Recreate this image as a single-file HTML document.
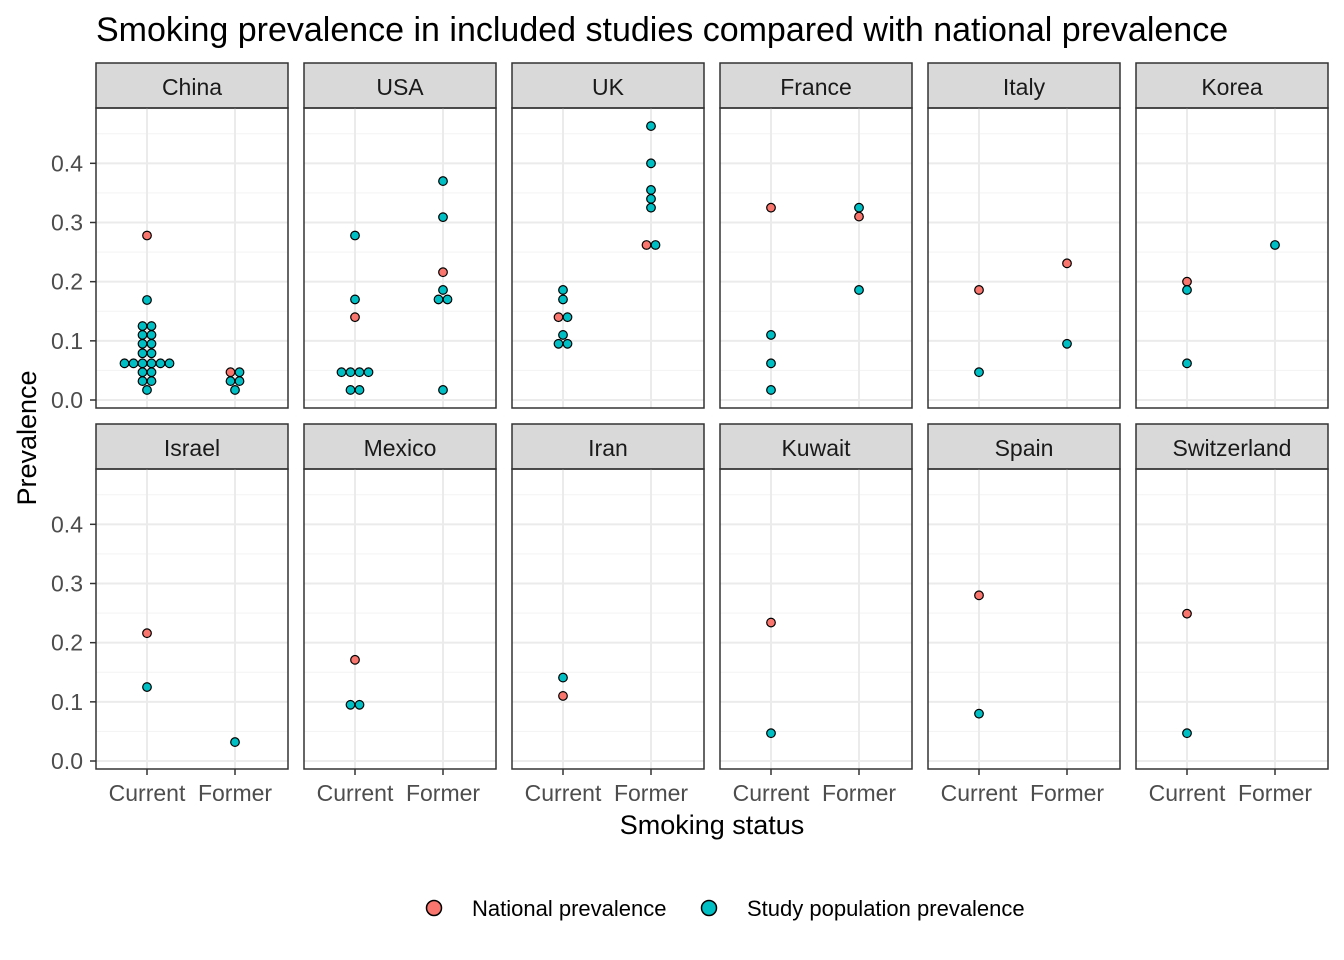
<!DOCTYPE html>
<html><head><meta charset="utf-8"><style>
body{margin:0;background:#fff;}
svg{display:block;font-family:"Liberation Sans",Arial,sans-serif;}
</style></head><body>
<svg id="chart" width="1344" height="960" xmlns="http://www.w3.org/2000/svg">
<text x="96" y="41" font-size="34" fill="#000">Smoking prevalence in included studies compared with national prevalence</text>
<text x="712" y="834" font-size="27" text-anchor="middle" fill="#000">Smoking status</text>
<text transform="translate(36,438) rotate(-90)" font-size="27" text-anchor="middle" fill="#000">Prevalence</text>
<g>
<circle cx="434" cy="908" r="7.5" fill="#F8766D" stroke="#000" stroke-width="1.5"/>
<text x="472" y="916" font-size="22">National prevalence</text>
<circle cx="709" cy="908" r="7.5" fill="#00BFC4" stroke="#000" stroke-width="1.5"/>
<text x="747" y="916" font-size="22">Study population prevalence</text>
</g>
<g id="panels"></g>
</svg>
<script>
const countries=["China","USA","UK","France","Italy","Korea","Israel","Mexico","Iran","Kuwait","Spain","Switzerland"];
const statuses=["Current","Former"];
const yTicks=[0,0.1,0.2,0.3,0.4];
const yTickLabels=["0.0","0.1","0.2","0.3","0.4"];
const nationalCurrent=[0.278,0.140,0.140,0.325,0.186,0.200,0.216,0.171,0.110,0.234,0.280,0.249];
const nationalFormer=[0.047,0.216,0.262,0.310,0.231,null,null,null,null,null,null,null];
const studyCurrent=[
 [0.169,0.125,0.125,0.110,0.110,0.095,0.095,0.079,0.079,0.062,0.062,0.062,0.062,0.062,0.062,0.047,0.047,0.032,0.032,0.017],
 [0.278,0.170,0.047,0.047,0.047,0.047,0.017,0.017],
 [0.186,0.170,0.140,0.110,0.095,0.095],
 [0.110,0.062,0.017],
 [0.047],
 [0.186,0.062],
 [0.125],[0.095,0.095],[0.141],[0.047],[0.080],[0.047]];
const studyFormer=[
 [0.047,0.032,0.032,0.017],
 [0.370,0.309,0.186,0.170,0.170,0.017],
 [0.463,0.400,0.355,0.340,0.325,0.262],
 [0.325,0.186],
 [0.095],
 [0.262],
 [0.032],[],[],[],[],[]];

const NS="http://www.w3.org/2000/svg";
const root=document.getElementById('panels');
function mk(tag,attrs,parent){const e=document.createElementNS(NS,tag);for(const k in attrs)e.setAttribute(k,attrs[k]);(parent||root).appendChild(e);return e;}
const PW=192, PH=300, px0=[96,304,512,720,928,1136];
const rowTop=[108,469];
const vmin=-0.0135, vmax=0.4935;
function yScale(v,row){return rowTop[row]+PH-(v-vmin)/(vmax-vmin)*PH;}
function xScale(s,col){return px0[col]+51+s*88;}

countries.forEach((c,i)=>{
  const row=Math.floor(i/6), col=i%6, x0=px0[col], top=rowTop[row];
  const g=mk('g',{});
  
  
  const st=mk('rect',{x:x0,y:top-45,width:PW,height:45,fill:'#D9D9D9',stroke:'#333','stroke-width':1.5},g);
  
  
  const stt=mk('text',{x:x0+PW/2,y:top-13,'font-size':23,'text-anchor':'middle',fill:'#1A1A1A'},g);
  stt.textContent=c;
  
  
  for(let v=0.05;v<0.5;v+=0.1){const y=yScale(v,row);const l=mk('line',{x1:x0,x2:x0+PW,y1:y,y2:y,stroke:'#F3F3F3','stroke-width':1},g);}
  yTicks.forEach(v=>{const y=yScale(v,row);const l=mk('line',{x1:x0,x2:x0+PW,y1:y,y2:y,stroke:'#EBEBEB','stroke-width':2},g);});
  statuses.forEach((s,si)=>{const x=xScale(si,col);const l=mk('line',{x1:x,x2:x,y1:top,y2:top+PH,stroke:'#EBEBEB','stroke-width':2},g);});
  [[studyCurrent[i],nationalCurrent[i]],[studyFormer[i],nationalFormer[i]]].forEach((pair,si)=>{
    const pts=[];
    if(pair[1]!==null)pts.push({v:pair[1],nat:true});
    pair[0].forEach(v=>pts.push({v:v,nat:false}));
    const groups={};
    pts.forEach(p=>{const k=p.v.toFixed(3);(groups[k]=groups[k]||[]).push(p);});
    Object.values(groups).forEach(grp=>{
      grp.forEach((p,j)=>{
        const x=xScale(si,col)+(j-(grp.length-1)/2)*9;
        const dot=mk('circle',{cx:x,cy:yScale(p.v,row),r:4.3,fill:p.nat?'#F8766D':'#00BFC4',stroke:'#000','stroke-width':1.2},g);
        
        
      });
    });
  });
  const b=mk('rect',{x:x0,y:top,width:PW,height:PH,fill:'none',stroke:'#333','stroke-width':1.5},g);
  
  
  if(col===0){
    yTicks.forEach((v,k)=>{const y=yScale(v,row);
      const t=mk('line',{x1:x0-6,x2:x0,y1:y,y2:y,stroke:'#333','stroke-width':1.5},g);
      
      const tl=mk('text',{x:x0-13,y:y+8,'font-size':23,'text-anchor':'end',fill:'#4D4D4D'},g);
      tl.textContent=yTickLabels[k];
      });
  }
  if(row===1){
    statuses.forEach((s,si)=>{const x=xScale(si,col);
      const t=mk('line',{x1:x,x2:x,y1:top+PH,y2:top+PH+6,stroke:'#333','stroke-width':1.5},g);
      
      const tl=mk('text',{x:x,y:top+PH+32,'font-size':23,'text-anchor':'middle',fill:'#4D4D4D'},g);
      tl.textContent=s;
      });
  }
});
</script>
</body></html>
